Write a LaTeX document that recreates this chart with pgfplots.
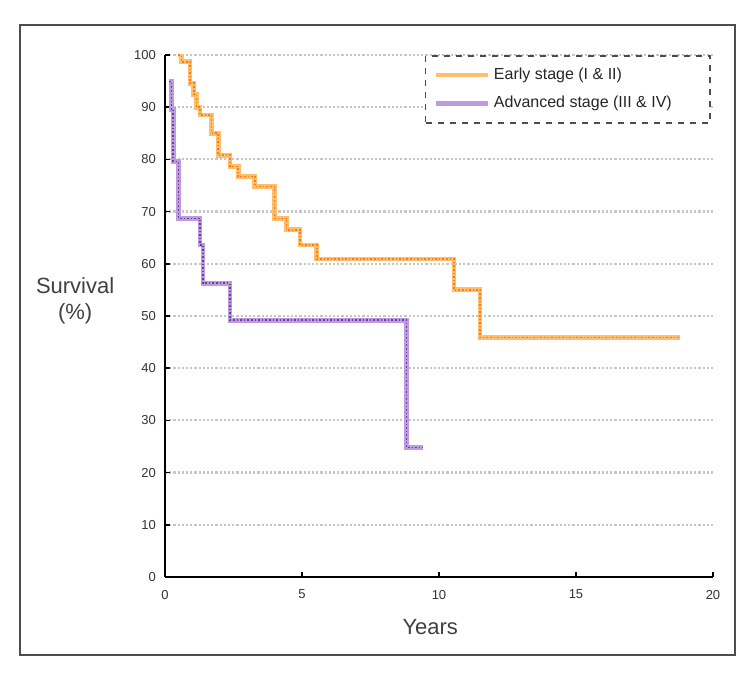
\documentclass[border=0pt]{standalone}
\usepackage{pgfplots}
\pgfplotsset{compat=1.18}
\usepackage{fontspec}
\setmainfont{Liberation Sans}
\definecolor{orL}{RGB}{255,190,110}
\definecolor{orD}{RGB}{255,125,15}
\definecolor{puL}{RGB}{190,155,220}
\definecolor{puD}{RGB}{110,60,160}
\begin{document}
\begin{tikzpicture}[x=1pt,y=1pt]
\useasboundingbox (0,0) rectangle (376,336.5);
\draw[black!70, line width=0.6pt] (10,9) rectangle (367.5,324);
\begin{axis}[
  at={(82.5pt,48pt)}, anchor=south west,
  scale only axis, width=274pt, height=261pt,
  xmin=0, xmax=20, ymin=0, ymax=100,
  axis lines*=left,
  axis line style={line width=1.4pt, black},
  xtick={0,5,10,15,20}, ytick={0,10,...,100},
  tick align=inside, major tick length=2.5pt,
  tick style={black, line width=0.8pt},
  ymajorgrids, grid style={gray!45, line width=1.1pt, densely dotted},
  ticklabel style={font=\fontsize{6.5}{7}\selectfont, text=black!80},
  /pgf/number format/assume math mode=true,
  xticklabel style={yshift=-3pt},
  yticklabel style={xshift=-1pt},
  xlabel={Years},
  xlabel style={font=\fontsize{11}{12}\selectfont, text=black!75, at={(axis description cs:0.484,0)}, anchor=center, yshift=-25pt},
  ylabel={Survival\\(\%)},
  ylabel style={font=\fontsize{11}{13}\selectfont, text=black!75, rotate=-90, align=center, at={(axis description cs:-0.164,0.53)}, anchor=center},
  legend style={at={(0.474,1)}, anchor=north west, draw=black!70, dashed, line width=0.8pt,
    font=\fontsize{8}{9.5}\selectfont, text=black!85, legend cell align=left,
    inner xsep=4pt, inner ysep=4pt, row sep=3pt},
  legend image code/.code={\draw[#1, line width=2.2pt, solid] (0pt,0pt) -- (26pt,0pt);
     \draw[#1, line width=0.8pt, densely dotted] (0pt,0pt) -- (26pt,0pt);},
]
\addplot[const plot, orL, line width=2.4pt, forget plot] coordinates {
(0.49,100) (0.6,98.7) (0.91,94.6) (1.05,92.5) (1.15,90) (1.28,88.5) (1.7,85)
(1.94,80.8) (2.37,78.6) (2.67,76.7) (3.28,74.8) (4.0,68.7) (4.44,66.5)
(4.93,63.6) (5.54,60.9) (10.55,55) (11.5,45.9) (18.8,45.9)};
\addplot[const plot, orD, line width=0.8pt, densely dotted, forget plot] coordinates {
(0.49,100) (0.6,98.7) (0.91,94.6) (1.05,92.5) (1.15,90) (1.28,88.5) (1.7,85)
(1.94,80.8) (2.37,78.6) (2.67,76.7) (3.28,74.8) (4.0,68.7) (4.44,66.5)
(4.93,63.6) (5.54,60.9) (10.55,55) (11.5,45.9) (18.8,45.9)};
\addplot[const plot, puL, line width=2.4pt, forget plot] coordinates {
(0.15,94.9) (0.24,89.5) (0.3,79.6) (0.49,68.7) (1.28,63.6) (1.39,56.3)
(2.37,49.2) (8.82,24.8) (9.43,24.8)};
\addplot[const plot, puD, line width=0.8pt, densely dotted, forget plot] coordinates {
(0.15,94.9) (0.24,89.5) (0.3,79.6) (0.49,68.7) (1.28,63.6) (1.39,56.3)
(2.37,49.2) (8.82,24.8) (9.43,24.8)};
\addlegendimage{orL}
\addlegendentry{\makebox[102pt][l]{Early stage (I \& II)}}
\addlegendimage{puL}
\addlegendentry{\makebox[102pt][l]{Advanced stage (III \& IV)}}
\end{axis}
\end{tikzpicture}
\end{document}
